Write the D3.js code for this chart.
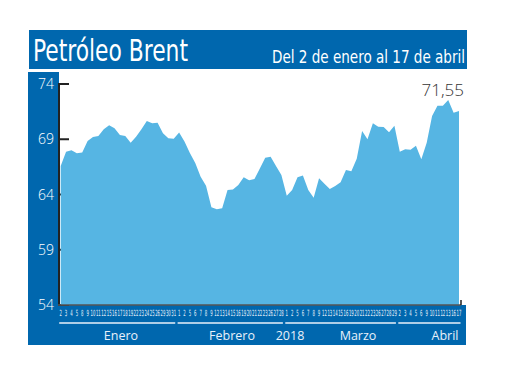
<!DOCTYPE html>
<html><head><meta charset="utf-8">
<script src="https://cdn.jsdelivr.net/npm/d3@7"></script>
<style>
html,body{margin:0;padding:0;background:#fff;}
svg{display:block;}
</style></head>
<body>
<svg id="c" width="520" height="390"></svg>
<script>
// ---- data ----
const months = ["Enero", "Febrero", "Marzo", "Abril"];
const yearLabel = "2018";
const daysEnero = [2,3,4,5,8,9,10,11,12,15,16,17,18,19,22,23,24,25,26,29,30,31];
const daysFebrero = [1,2,5,6,7,8,9,12,13,14,15,16,19,20,21,22,23,26,27,28];
const daysMarzo = [1,2,5,6,7,8,9,12,13,14,15,16,19,20,21,22,23,26,27,28,29];
const daysAbril = [2,3,4,5,6,9,10,11,12,13,16,17];
const valuesEnero = [66.58,67.87,68.0,67.73,67.8,68.84,69.2,69.3,69.9,70.26,69.99,69.38,69.3,68.69,69.23,69.9,70.65,70.44,70.5,69.54,69.08,69.05];
const valuesFebrero = [69.6,68.8,67.75,66.85,65.6,64.8,62.85,62.66,62.75,64.4,64.45,64.86,65.55,65.3,65.4,66.35,67.33,67.42,66.58,65.76];
const valuesMarzo = [63.89,64.4,65.55,65.73,64.4,63.71,65.47,64.98,64.5,64.77,65.1,66.22,66.1,67.24,69.75,69.0,70.44,70.14,70.11,69.63,70.23];
const valuesAbril = [67.87,68.09,68.06,68.42,67.18,68.69,71.1,72.04,72.04,72.55,71.4,71.55];
const yTicks = [54, 59, 64, 69, 74];
const title = "Petróleo Brent";
const subtitle = "Del 2 de enero al 17 de abril";
const lastLabel = "71,55";

// ---- build ----
const dayGroups = [daysEnero, daysFebrero, daysMarzo, daysAbril];
const valGroups = [valuesEnero, valuesFebrero, valuesMarzo, valuesAbril];
const data = [];
dayGroups.forEach((g, m) => g.forEach((d, i) => data.push({m, day: d, v: valGroups[m][i], k: data.length})));

const svg = d3.select("#c");
const blue = "#0067ae";
const area_c = "#56b5e3";
const narrow = "'Liberation Sans Narrow','DejaVu Sans Condensed',sans-serif";

const x = d3.scalePoint().domain(data.map(d => d.k)).range([60.7, 459]);
const y = d3.scaleLinear().domain([54, 74]).range([305, 84]);

// banner
svg.append("rect").attr("x", 29).attr("y", 30).attr("width", 438).attr("height", 39).attr("fill", blue);
svg.append("text").attr("x", 33).attr("y", 61).attr("fill", "#fff")
  .attr("font-family", narrow).attr("font-weight", 500)
  .attr("font-size", 31).attr("textLength", 155).attr("lengthAdjust", "spacingAndGlyphs").text(title);
svg.append("text").attr("x", 465).attr("y", 63).attr("fill", "#fff").attr("text-anchor", "end")
  .attr("font-family", narrow)
  .attr("font-size", 18).attr("textLength", 193).attr("lengthAdjust", "spacingAndGlyphs").text(subtitle);

// left column and bottom band
svg.append("rect").attr("x", 28).attr("y", 72).attr("width", 31).attr("height", 273).attr("fill", blue);
svg.append("rect").attr("x", 28).attr("y", 305).attr("width", 438).attr("height", 40).attr("fill", blue);

// y ticks (under area)
const gy = svg.append("g");
gy.selectAll("line").data(yTicks).join("line")
  .attr("x1", 59).attr("x2", 69).attr("y1", d => y(d)).attr("y2", d => y(d))
  .attr("stroke", "#222").attr("stroke-width", 2);
gy.selectAll("text").data(yTicks).join("text")
  .attr("x", 46).attr("y", d => y(d) + 5).attr("text-anchor", "middle")
  .attr("fill", "#fff").attr("font-family", "'Open Sans',sans-serif").attr("font-size", 14)
  .attr("font-weight", 300).text(d => d);

// area
const area = d3.area().x(d => x(d.k)).y0(y(54)).y1(d => y(d.v));
svg.append("path").datum(data).attr("d", area).attr("fill", area_c);

// axes lines
svg.append("line").attr("x1", 59).attr("x2", 59).attr("y1", y(74) - 1).attr("y2", 306)
  .attr("stroke", "#222").attr("stroke-width", 2);
svg.append("line").attr("x1", 58).attr("x2", 461).attr("y1", 305).attr("y2", 305)
  .attr("stroke", "#555").attr("stroke-width", 1.5);
svg.append("line").attr("x1", 461).attr("x2", 461).attr("y1", 300).attr("y2", 305)
  .attr("stroke", "#222").attr("stroke-width", 1.5);

// day labels (horizontally compressed, like the condensed original)
svg.append("g").selectAll("text").data(data).join("text")
  .attr("transform", d => `translate(${x(d.k)},316) scale(0.5,1)`)
  .attr("text-anchor", "middle")
  .attr("fill", "#e8f1fa").attr("font-family", narrow)
  .attr("font-size", 8.5)
  .text(d => d.day);

// month underlines
const groups = months.map((mName, m) => {
  const pts = data.filter(d => d.m === m);
  return {m, x0: x(pts[0].k) - 1.5, x1: x(pts[pts.length - 1].k) + 1.5};
});
svg.append("g").selectAll("line").data(groups).join("line")
  .attr("x1", d => d.x0).attr("x2", d => d.x1).attr("y1", 323).attr("y2", 323)
  .attr("stroke", "#e8f1fa").attr("stroke-width", 1.5);

// month labels
const monthX = [121, 232, 358, 445];
svg.append("g").selectAll("text").data(months).join("text")
  .attr("x", (d, i) => monthX[i]).attr("y", 340).attr("text-anchor", "middle")
  .attr("fill", "#e8f1fa").attr("font-family", "'Open Sans',sans-serif").attr("font-size", 12.5)
  .text(d => d);
svg.append("text").attr("x", 290).attr("y", 340).attr("text-anchor", "middle")
  .attr("fill", "#e8f1fa").attr("font-family", "'Open Sans',sans-serif").attr("font-size", 12.5)
  .text(yearLabel);

// last value label
const last = data[data.length - 1];
svg.append("text").attr("x", x(last.k) + 5).attr("y", 96).attr("text-anchor", "end")
  .attr("fill", "#333").attr("font-family", "'Open Sans',sans-serif").attr("font-size", 17)
  .attr("font-weight", 300).text(lastLabel);
</script>
</body></html>
